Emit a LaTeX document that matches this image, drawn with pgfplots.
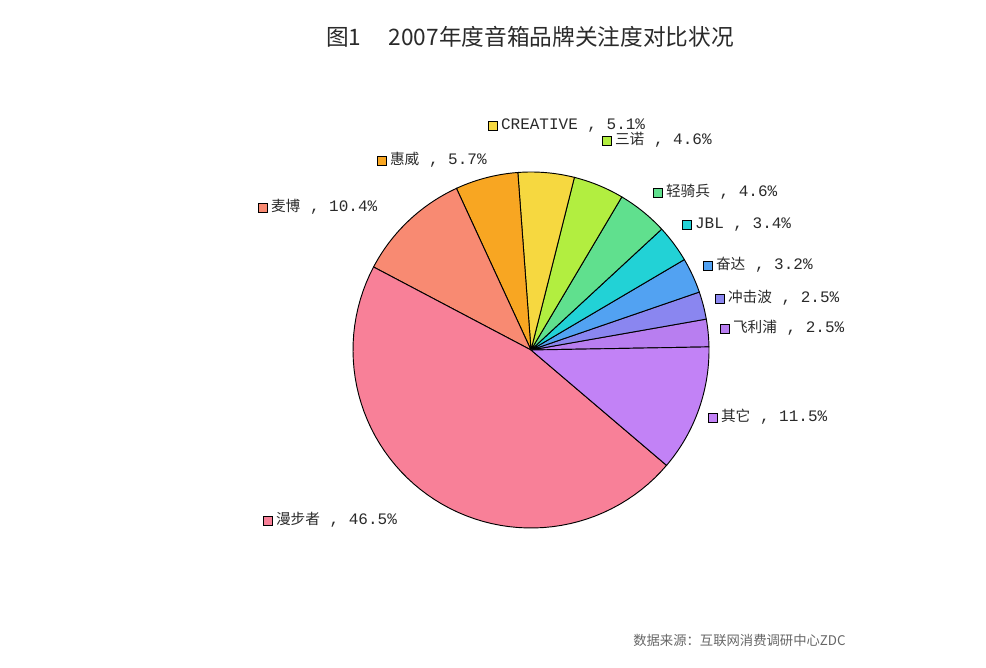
\documentclass[border=0pt]{standalone}
\usepackage{pgfplots}
\pgfplotsset{compat=1.18}
\usepackage{fontspec}
\setmainfont{Noto Sans CJK SC}
\newfontfamily\monofont{Liberation Mono}
\definecolor{cFei}{HTML}{B87EF0}
\definecolor{cChong}{HTML}{8A86F0}
\definecolor{cFen}{HTML}{52A2F2}
\definecolor{cJBL}{HTML}{22D2D6}
\definecolor{cQing}{HTML}{60E08E}
\definecolor{cSan}{HTML}{B2EE40}
\definecolor{cCre}{HTML}{F6D840}
\definecolor{cHui}{HTML}{F8A622}
\definecolor{cMai}{HTML}{F88A72}
\definecolor{cMan}{HTML}{F88098}
\definecolor{cQita}{HTML}{C282F6}
\definecolor{txt}{HTML}{2A2A2A}
\newcommand\lbl[3]{{\setlength\fboxsep{0pt}\setlength\fboxrule{0.8pt}\fcolorbox{black}{#1}{\rule{0pt}{6pt}\rule{6pt}{0pt}}}\hspace{2pt}{\fontsize{11}{13}\selectfont #2}{\monofont\fontsize{12}{13}\selectfont\ ,\ #3\%}}
\begin{document}
\begin{tikzpicture}
\begin{axis}[
  x=0.75pt, y=0.75pt,
  xmin=0, xmax=986, ymin=0, ymax=668,
  hide axis, clip=false, scale only axis,
]
\path (0,0) rectangle (986,668);
\gdef\acc{1}
\foreach \v/\col in {2.5/cFei, 2.5/cChong, 3.2/cFen, 3.4/cJBL, 4.6/cQing, 4.6/cSan, 5.1/cCre, 5.7/cHui, 10.4/cMai, 46.5/cMan, 11.5/cQita}{
  \pgfmathsetmacro{\b}{\acc+3.6*\v}
  \edef\temp{\noexpand\addplot[draw=black, line width=0.7pt, fill=\col, domain=\acc:\b, samples=60, variable=\noexpand\t] ({531+178*cos(\noexpand\t)},{318+178*sin(\noexpand\t)}) -- (531,318) -- cycle;}
  \temp
  \xdef\acc{\b}
}
\node[txt, font=\fontsize{17}{20}\selectfont] at (530,631) {图1\hspace{1.2em}2007年度音箱品牌关注度对比状况};
\node[txt, anchor=west, inner sep=0pt] at (488,542) {\lbl{cCre}{\monofont\fontsize{12}{13}\selectfont CREATIVE}{5.1}};
\node[txt, anchor=west, inner sep=0pt] at (602,528) {\lbl{cSan}{三诺}{4.6}};
\node[txt, anchor=west, inner sep=0pt] at (377,508) {\lbl{cHui}{惠威}{5.7}};
\node[txt, anchor=west, inner sep=0pt] at (258,461) {\lbl{cMai}{麦博}{10.4}};
\node[txt, anchor=west, inner sep=0pt] at (653,476) {\lbl{cQing}{轻骑兵}{4.6}};
\node[txt, anchor=west, inner sep=0pt] at (682,443) {\lbl{cJBL}{\monofont\fontsize{12}{13}\selectfont JBL}{3.4}};
\node[txt, anchor=west, inner sep=0pt] at (703,403) {\lbl{cFen}{奋达}{3.2}};
\node[txt, anchor=west, inner sep=0pt] at (715,370) {\lbl{cChong}{冲击波}{2.5}};
\node[txt, anchor=west, inner sep=0pt] at (720,340) {\lbl{cFei}{飞利浦}{2.5}};
\node[txt, anchor=west, inner sep=0pt] at (708,251) {\lbl{cQita}{其它}{11.5}};
\node[txt, anchor=west, inner sep=0pt] at (263,148) {\lbl{cMan}{漫步者}{46.5}};
\node[black!60, anchor=west, inner sep=0pt, font=\fontsize{10}{12}\selectfont] at (633,28) {数据来源：互联网消费调研中心ZDC};
\end{axis}
\end{tikzpicture}
\end{document}
